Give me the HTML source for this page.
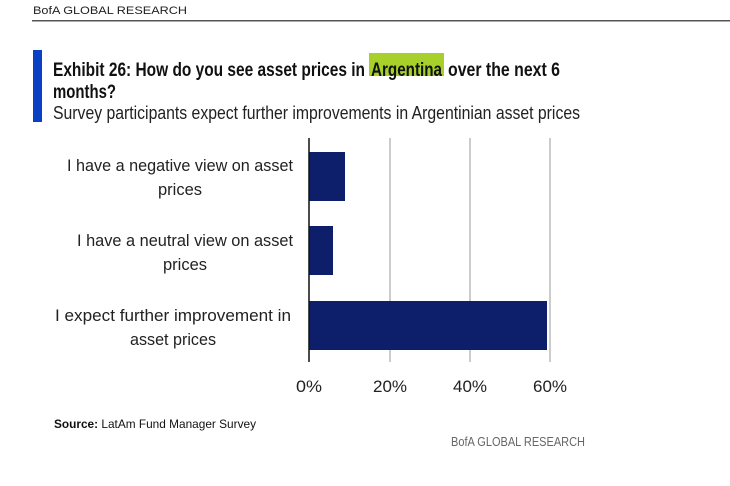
<!DOCTYPE html>
<html><head><style>body{margin:0;background:#fff}svg{display:block}</style></head>
<body>
<svg width="730" height="486" xmlns="http://www.w3.org/2000/svg" font-family="Liberation Sans, sans-serif">
<text x="33" y="14" font-size="11" fill="#222" textLength="154" lengthAdjust="spacingAndGlyphs">BofA GLOBAL RESEARCH</text>
<rect x="32" y="20" width="698" height="1.5" fill="#555"/>
<rect x="33" y="50" width="9" height="72" fill="#0a40c4"/>
<rect x="369" y="53" width="75" height="23" fill="#a7d12a"/>
<g font-size="19" font-weight="bold" fill="#111">
<text x="53" y="76" textLength="312" lengthAdjust="spacingAndGlyphs">Exhibit 26: How do you see asset prices in</text>
<text x="371" y="76" textLength="71" lengthAdjust="spacingAndGlyphs">Argentina</text>
<text x="448" y="76" textLength="112" lengthAdjust="spacingAndGlyphs">over the next 6</text>
<text x="53" y="98" textLength="63" lengthAdjust="spacingAndGlyphs">months?</text>
</g>
<text x="53" y="119" font-size="18" fill="#222" textLength="527" lengthAdjust="spacingAndGlyphs">Survey participants expect further improvements in Argentinian asset prices</text>
<g stroke="#bbb" stroke-width="1.5">
<line x1="390" y1="138" x2="390" y2="362"/><line x1="470" y1="138" x2="470" y2="362"/><line x1="550" y1="138" x2="550" y2="362"/>
</g>
<rect x="309" y="152" width="36" height="49" fill="#0d1f6b"/>
<rect x="309" y="226" width="24" height="49" fill="#0d1f6b"/>
<rect x="309" y="301" width="238" height="49" fill="#0d1f6b"/>
<line x1="309" y1="138" x2="309" y2="362" stroke="#111" stroke-width="1.5"/>
<g font-size="17" fill="#222" text-anchor="middle">
<text x="180" y="171" textLength="226" lengthAdjust="spacingAndGlyphs">I have a negative view on asset</text>
<text x="180" y="195" textLength="44" lengthAdjust="spacingAndGlyphs">prices</text>
<text x="185" y="246" textLength="216" lengthAdjust="spacingAndGlyphs">I have a neutral view on asset</text>
<text x="185" y="270" textLength="44" lengthAdjust="spacingAndGlyphs">prices</text>
<text x="173" y="321" textLength="236" lengthAdjust="spacingAndGlyphs">I expect further improvement in</text>
<text x="173" y="345" textLength="86" lengthAdjust="spacingAndGlyphs">asset prices</text>
<text x="309" y="392" textLength="26" lengthAdjust="spacingAndGlyphs">0%</text><text x="390" y="392" textLength="34" lengthAdjust="spacingAndGlyphs">20%</text><text x="470" y="392" textLength="34" lengthAdjust="spacingAndGlyphs">40%</text><text x="550" y="392" textLength="34" lengthAdjust="spacingAndGlyphs">60%</text>
</g>
<text x="54" y="428" font-size="12" fill="#111" textLength="202" lengthAdjust="spacingAndGlyphs"><tspan font-weight="bold">Source:</tspan> LatAm Fund Manager Survey</text>
<text x="451" y="446" font-size="13" fill="#666" textLength="134" lengthAdjust="spacingAndGlyphs">BofA GLOBAL RESEARCH</text>
</svg>
</body></html>
